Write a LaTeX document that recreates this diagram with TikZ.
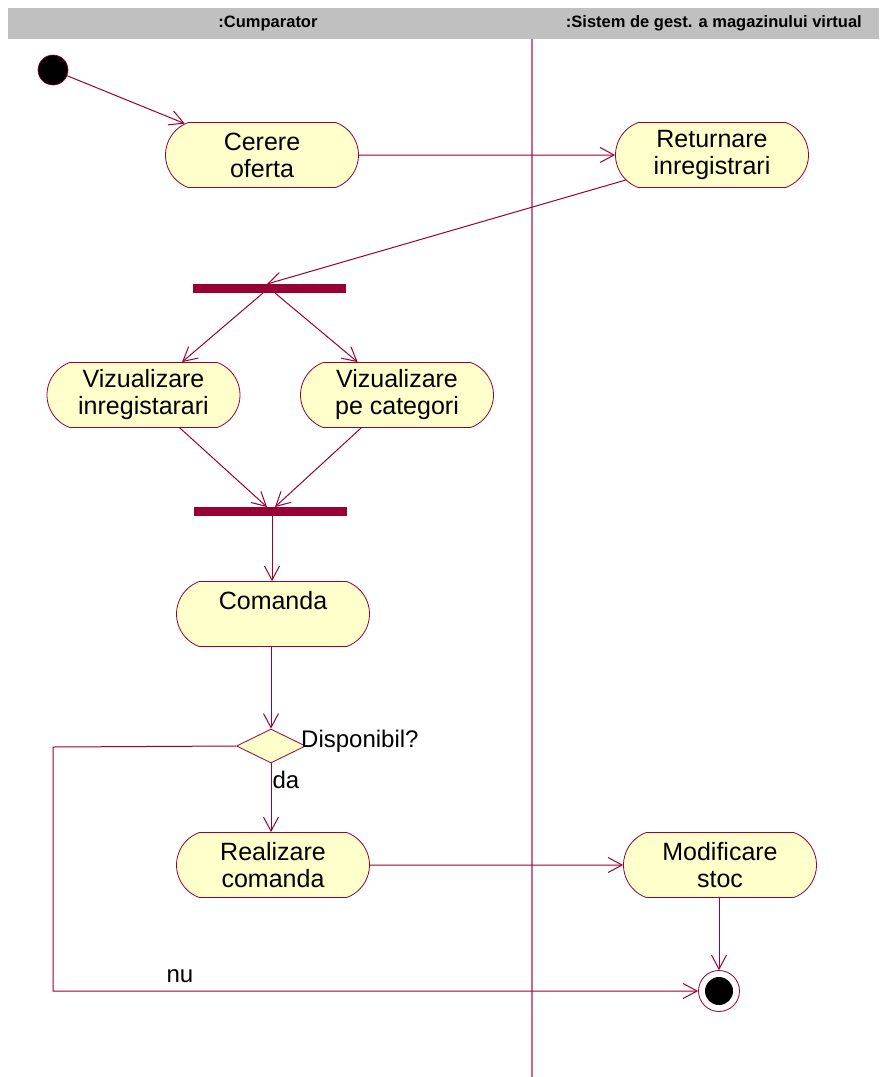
\documentclass[tikz,border=0pt]{standalone}
\usepackage{fontspec}
\setmainfont{Liberation Sans}
\usetikzlibrary{arrows.meta,shapes.misc,shapes.geometric}
\definecolor{rr}{HTML}{990033}
\definecolor{fillY}{HTML}{FFFFCC}
\definecolor{lane}{HTML}{CC6699}
\definecolor{hdr}{HTML}{C0C0C0}
\begin{document}
\begin{tikzpicture}[x=1pt,y=-1pt,
  act/.style={rounded rectangle, rounded rectangle arc length=140, draw=rr, line width=0.8pt, fill=fillY,
    minimum width=193pt, minimum height=65pt, align=center, font=\fontsize{25}{27}\selectfont, inner sep=0pt},
  bar/.style={rectangle, fill=rr, minimum width=153pt, minimum height=9pt, inner sep=0pt},
  arr/.style={draw=rr, line width=1pt, -{Straight Barb[length=14pt,width=15pt]}},
  lbl/.style={font=\fontsize{24}{26}\selectfont, inner sep=0pt},
  hdrtxt/.style={font=\bfseries\fontsize{16.5}{18}\selectfont, inner sep=0pt}
]
\useasboundingbox (0,0) rectangle (879,1077);
% header and swimlane
\fill[hdr] (8,8) rectangle (879,39);
\node[hdrtxt] (h1) at (268,23) {:Cumparator};
\node[hdrtxt, anchor=east] (h2) at (862,23) {:Sistem de gest. a magazinului virtual};
\draw[lane, line width=1.5pt] (532,39) -- (532,1077);
% nodes
\node[circle, fill=black, draw=rr, line width=0.6pt, minimum size=30pt, inner sep=0pt] (init) at (53,70) {};
\node[act] (cer) at (262,155) {Cerere\\oferta};
\node[act] (ret) at (712,155) {Returnare\\inregistrari};
\node[bar] (fork) at (269.5,288.5) {};
\node[act] (vinr) at (143.5,395) {Vizualizare\\inregistarari};
\node[act] (vcat) at (397,395) {Vizualizare\\pe categori};
\node[bar] (join) at (270.5,511) {};
\node[act] (com) at (273,614) {Comanda\\\mbox{}};
\node[diamond, draw=rr, fill=fillY, line width=0.8pt, minimum width=69pt, minimum height=34pt, inner sep=0pt] (dia) at (271,746) {};
\node[lbl, anchor=west] (disp) at (301,741) {Disponibil?};
\node[act] (real) at (273,865) {Realizare\\comanda};
\node[act] (mod) at (720,865) {Modificare\\stoc};
\node[circle, draw=rr, fill=white, line width=0.8pt, minimum size=41pt, inner sep=0pt] (fin) at (719,991) {};
\node[circle, fill=black, minimum size=28pt, inner sep=0pt] (finin) at (fin.center) {};
% coordinates on bars
\coordinate (fin1) at (267,284);
\coordinate (fo1) at (263,293);
\coordinate (fo2) at (275,293);
\coordinate (ji1) at (267,507);
\coordinate (ji2) at (275,507);
\coordinate (jo) at (272,515.5);
\coordinate (nuc) at (53,747);
% connectors
\draw[arr] (init) -- (cer);
\draw[arr] (cer) -- (ret);
\draw[arr] (ret) -- (fin1);
\draw[arr] (fo1) -- (vinr);
\draw[arr] (fo2) -- (vcat);
\draw[arr] (vinr) -- (ji1);
\draw[arr] (vcat) -- (ji2);
\draw[arr] (jo) -- (jo |- com.north);
\draw[arr] (com.south -| dia.north) -- (dia.north);
\draw[arr] (dia.south) -- (dia.south |- real.north);
\node[lbl] (da) at (286,780) {da};
\draw[arr] (real) -- (mod);
\draw[arr] (mod.south -| fin.north) -- (fin.north);
\draw[arr] (dia.west) -- (nuc) |- (fin);
\node[lbl] (nu) at (180,976) {nu};
\end{tikzpicture}
\end{document}
